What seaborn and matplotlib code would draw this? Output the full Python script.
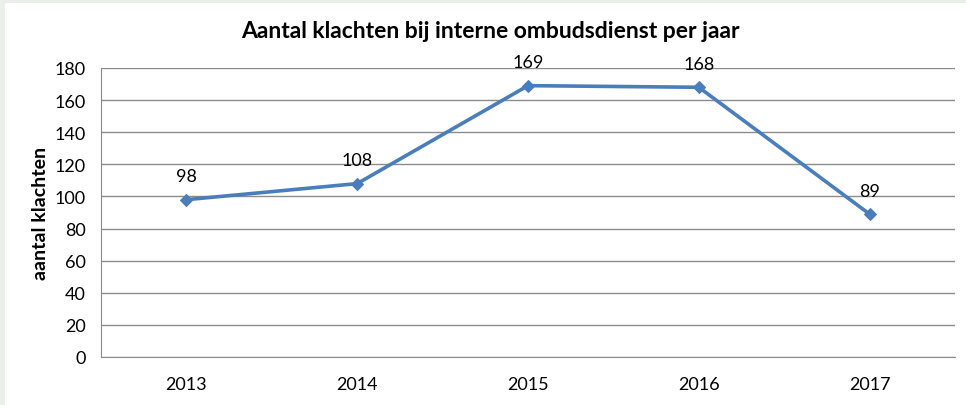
import matplotlib
matplotlib.use("Agg")
import matplotlib.pyplot as plt
import seaborn as sns
import pandas as pd
from matplotlib.patches import Rectangle

# data
jaren = ["2013", "2014", "2015", "2016", "2017"]
klachten = [98, 108, 169, 168, 89]

df = pd.DataFrame({"jaar": jaren, "klachten": klachten})

sns.set_style("white")
plt.rcParams["font.family"] = ["Lato", "DejaVu Sans"]
plt.rcParams["text.color"] = "black"
plt.rcParams["axes.labelcolor"] = "black"

fig = plt.figure(figsize=(9.66, 4.06), dpi=100)
fig.patch.set_facecolor("#eceeeb")
fig.patches.append(Rectangle((5 / 966, 0), 1, 1 - 4 / 406, transform=fig.transFigure,
                             facecolor="white", edgecolor="none", zorder=-10))

ax = fig.add_axes([101 / 966, 1 - 358 / 406, 854 / 966, 289 / 406])
ax.set_facecolor("white")

sns.lineplot(data=df, x="jaar", y="klachten", ax=ax, color="#4a7ebb", linewidth=2.6,
             marker="D", markersize=6, markeredgecolor="#4a7ebb", sort=False, zorder=3)

for i, v in enumerate(klachten):
    ax.annotate(str(v), (i, v), xytext=(0, 11), textcoords="offset points",
                ha="center", va="bottom", fontsize=13, color="black")

ax.set_xlim(-0.5, 4.5)
ax.set_ylim(0, 180)
ax.set_yticks(range(0, 181, 20))
ax.grid(axis="y", color="#8c8c8c", linewidth=1)
ax.set_axisbelow(True)
for s in ["top", "right"]:
    ax.spines[s].set_visible(False)
ax.spines["left"].set_color("#8c8c8c")
ax.spines["bottom"].set_color("#8c8c8c")
ax.tick_params(axis="both", length=0, labelsize=13, colors="black")
ax.tick_params(axis="y", pad=11)
ax.tick_params(axis="x", pad=14)
ax.set_xlabel("")
ax.set_ylabel("aantal klachten", fontsize=14, fontweight="bold", labelpad=4)
fig.text(490 / 966, 1 - 32 / 406, "Aantal klachten bij interne ombudsdienst per jaar",
         ha="center", va="center", fontsize=16.5, fontweight="bold")

fig.savefig("out.png", dpi=100, facecolor=fig.get_facecolor())
